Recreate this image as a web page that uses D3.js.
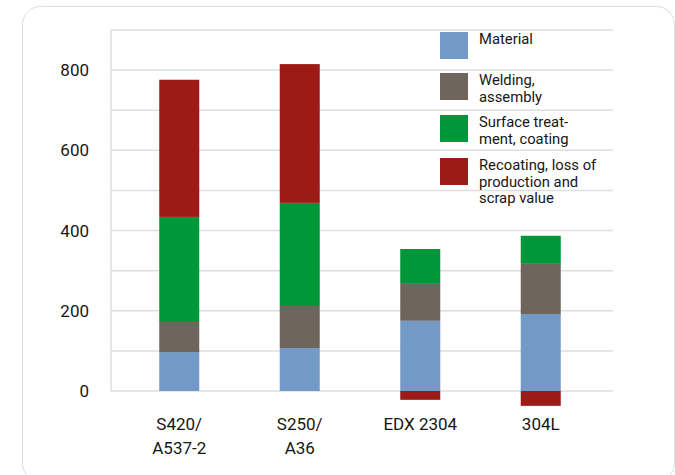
<!DOCTYPE html>
<html>
<head>
<meta charset="utf-8">
<script src="https://cdn.jsdelivr.net/npm/d3@7"></script>
<style>
  body { margin: 0; background: #fff; }
  svg { display: block; font-family: Roboto, "DejaVu Sans", sans-serif; }
</style>
</head>
<body>
<div class="chart"></div>
<script>
"use strict";

// categories and series
const categories = ["S420/\nA537-2", "S250/\nA36", "EDX 2304", "304L"];
const series_names = ["Material", "Welding, assembly", "Surface treatment, coating", "Recoating, loss of production and scrap value"];
const material = [97, 107, 175, 192];
const welding = [75, 105, 94, 125];
const surface = [262, 257, 85, 70];
const recoating = [342, 346, -22, -37];
const y_ticks = [0, 200, 400, 600, 800];
const grid_ticks = [0, 100, 200, 300, 400, 500, 600, 700, 800, 900];
const legend_lines = [["Material"], ["Welding,", "assembly"], ["Surface treat-", "ment, coating"], ["Recoating, loss of", "production and", "scrap value"]];

// Plot appearance
const width = 675, height = 475;
const colors = ["#7399c6", "#6e665c", "#00963a", "#9c1b17"];
const keys = ["material", "welding", "surface", "recoating"];

let rows = categories.map(function (c, i) {
    return {cat: c, material: material[i], welding: welding[i], surface: surface[i], recoating: recoating[i]};
});

let stacked = d3.stack().keys(keys).offset(d3.stackOffsetDiverging)(rows);

let svg = d3.select(".chart").append("svg")
    .attr("width", width)
    .attr("height", height);

// card frame
svg.append("rect")
    .attr("x", 22.5).attr("y", 6.5)
    .attr("width", 652).attr("height", 475)
    .attr("rx", 18)
    .attr("fill", "#fff")
    .attr("stroke", "#dcdcdc");

let x_scale = d3.scaleBand()
    .domain(categories)
    .range([119, 601])
    .paddingInner(0.668)
    .paddingOuter(0.334);

let y_scale = d3.scaleLinear()
    .domain([0, 900])
    .range([391, 30]);

// gridlines
svg.append("g").selectAll("line")
    .data(grid_ticks)
    .join("line")
    .attr("x1", 111).attr("x2", 613)
    .attr("y1", d => y_scale(d)).attr("y2", d => y_scale(d))
    .attr("stroke", "#dedede")
    .attr("stroke-width", 1.5);

svg.append("line")
    .attr("x1", 111).attr("x2", 111)
    .attr("y1", y_scale(0)).attr("y2", y_scale(900))
    .attr("stroke", "#dedede")
    .attr("stroke-width", 1.5);

// y axis labels
let y_axis = svg.append("g")
    .attr("transform", "translate(89,0)")
    .call(d3.axisLeft(y_scale).tickValues(y_ticks).tickSize(0).tickPadding(0));
y_axis.select(".domain").remove();
y_axis.selectAll("text")
    .attr("font-size", 17)
    .attr("font-family", "Roboto, sans-serif")
    .attr("fill", "#161616");

// bars
svg.append("g").selectAll("g")
    .data(stacked)
    .join("g")
    .attr("fill", (d, i) => colors[i])
    .selectAll("rect")
    .data(d => d)
    .join("rect")
    .attr("x", d => x_scale(d.data.cat))
    .attr("width", x_scale.bandwidth())
    .attr("y", d => y_scale(Math.max(d[0], d[1])))
    .attr("height", d => Math.abs(y_scale(d[0]) - y_scale(d[1])));

// x labels
let x_labels = svg.append("g").selectAll("text")
    .data(categories)
    .join("text")
    .attr("text-anchor", "middle")
    .attr("font-size", 17)
    .attr("fill", "#161616")
    .attr("transform", d => "translate(" + (x_scale(d) + x_scale.bandwidth() / 2) + ",430)");
x_labels.selectAll("tspan")
    .data(d => d.split("\n"))
    .join("tspan")
    .attr("x", 0)
    .attr("dy", (d, i) => i === 0 ? 0 : 24)
    .text(d => d);

// legend
const legend_y = [32, 73, 115, 158];
let legend = svg.append("g").selectAll("g")
    .data(series_names)
    .join("g")
    .attr("transform", (d, i) => "translate(440," + legend_y[i] + ")");
legend.append("rect")
    .attr("width", 28).attr("height", 27)
    .attr("fill", (d, i) => colors[i]);
legend.append("text")
    .attr("x", 39).attr("y", 12)
    .attr("font-size", 14.8)
    .attr("fill", "#161616")
    .selectAll("tspan")
    .data((d, i) => legend_lines[i])
    .join("tspan")
    .attr("x", 39)
    .attr("dy", (d, i) => i === 0 ? 0 : 16.5)
    .text(d => d);
</script>
</body>
</html>
